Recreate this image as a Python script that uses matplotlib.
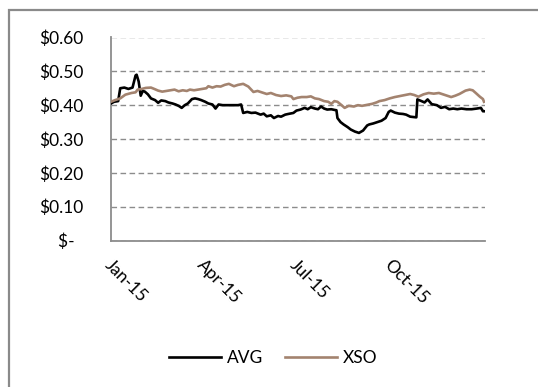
import matplotlib
matplotlib.use("Agg")
import matplotlib.pyplot as plt
import matplotlib.dates as mdates
import matplotlib.transforms as mtransforms
from matplotlib.ticker import FuncFormatter, MultipleLocator
from matplotlib.patches import Rectangle
import pandas as pd

BASE = pd.Timestamp("2015-01-01")

# day offsets from Jan 1 2015 and price ($)
avg_days = [0, 3, 7, 9, 13, 17, 21, 24, 25, 27, 29, 31, 33, 36, 39, 43, 46, 49,
            53, 56, 60, 63, 66, 69, 72, 75, 79, 82, 85, 88, 92, 95, 99, 102,
            105, 109, 113, 117, 121, 124, 127, 129, 133, 137, 141, 146, 149,
            152, 156, 159, 163, 166, 170, 173, 178, 181, 185, 189, 192, 195,
            199, 202, 205, 208, 211, 215, 218, 220, 221, 224, 227, 231, 234,
            238, 242, 246, 250, 252, 256, 260, 264, 268, 271, 273, 277, 281,
            285, 288, 292, 295, 298, 299, 303, 306, 309, 313, 318, 322, 326,
            330, 334, 338, 342, 347, 352, 357, 361, 363, 364]
avg_vals = [0.405, 0.410, 0.412, 0.450, 0.452, 0.448, 0.452, 0.488, 0.490,
            0.470, 0.428, 0.442, 0.440, 0.432, 0.420, 0.415, 0.407, 0.414,
            0.412, 0.408, 0.405, 0.402, 0.398, 0.392, 0.400, 0.405, 0.418,
            0.420, 0.418, 0.415, 0.410, 0.405, 0.402, 0.390, 0.402, 0.400,
            0.400, 0.400, 0.400, 0.400, 0.402, 0.377, 0.380, 0.377, 0.378,
            0.372, 0.375, 0.367, 0.370, 0.362, 0.368, 0.366, 0.372, 0.374,
            0.377, 0.384, 0.387, 0.392, 0.388, 0.394, 0.390, 0.388, 0.396,
            0.390, 0.387, 0.388, 0.386, 0.385, 0.362, 0.350, 0.343, 0.335,
            0.328, 0.322, 0.318, 0.325, 0.340, 0.343, 0.346, 0.350, 0.354,
            0.362, 0.380, 0.384, 0.378, 0.375, 0.374, 0.372, 0.366, 0.365,
            0.364, 0.417, 0.412, 0.408, 0.417, 0.403, 0.400, 0.392, 0.395,
            0.388, 0.390, 0.388, 0.390, 0.388, 0.388, 0.390, 0.392, 0.382,
            0.382]

xso_days = [0, 4, 9, 14, 20, 24, 26, 30, 34, 39, 43, 46, 50, 54, 58, 62, 66,
            70, 74, 77, 81, 85, 89, 93, 95, 99, 103, 107, 111, 115, 120, 124,
            129, 134, 139, 143, 147, 152, 156, 161, 166, 171, 176, 178, 182,
            186, 191, 195, 199, 203, 208, 212, 215, 218, 221, 225, 228, 232,
            237, 241, 245, 250, 255, 259, 262, 267, 272, 277, 282, 287, 292,
            296, 300, 305, 310, 315, 320, 324, 328, 332, 336, 340, 343, 346,
            350, 353, 356, 360, 363, 364]
xso_vals = [0.410, 0.415, 0.420, 0.431, 0.436, 0.438, 0.446, 0.448, 0.451,
            0.452, 0.447, 0.443, 0.440, 0.442, 0.444, 0.446, 0.441, 0.444,
            0.442, 0.446, 0.444, 0.446, 0.448, 0.450, 0.456, 0.452, 0.456,
            0.455, 0.460, 0.463, 0.456, 0.460, 0.463, 0.455, 0.439, 0.442,
            0.438, 0.433, 0.436, 0.430, 0.427, 0.429, 0.426, 0.418, 0.422,
            0.424, 0.424, 0.426, 0.420, 0.418, 0.412, 0.410, 0.404, 0.412,
            0.410, 0.400, 0.392, 0.398, 0.396, 0.400, 0.398, 0.401, 0.404,
            0.408, 0.412, 0.415, 0.420, 0.424, 0.427, 0.430, 0.433, 0.430,
            0.425, 0.432, 0.436, 0.434, 0.436, 0.432, 0.428, 0.424, 0.428,
            0.433, 0.438, 0.443, 0.446, 0.444, 0.436, 0.425, 0.418, 0.410]

avg_dates = BASE + pd.to_timedelta(avg_days, unit="D")
xso_dates = BASE + pd.to_timedelta(xso_days, unit="D")

AVG_C = "#000000"
XSO_C = "#A3836F"
GRID = "#8C8C8C"
AXIS = "#8C8C8C"
FS = 12.5

plt.rcParams["font.family"] = ["Lato", "DejaVu Sans"]

fig = plt.figure(figsize=(5.38, 3.87), dpi=100)
ax = fig.add_axes([111 / 538, 1 - 240.5 / 387, 374 / 538, 203 / 387])

# outer chart frame (only left/top visible in the picture)
fig.patches.append(Rectangle((9 / 538, -0.1), 1.2, 1 - 10 / 387 + 0.1,
                             transform=fig.transFigure, fill=False,
                             edgecolor="#8A8A8A", linewidth=1.6))

ax.plot(avg_dates, avg_vals, color=AVG_C, lw=1.9, label="AVG", zorder=3)
ax.plot(xso_dates, xso_vals, color=XSO_C, lw=1.9, label="XSO", zorder=3)

ax.set_ylim(0, 0.6)
ax.set_xlim(BASE, BASE + pd.Timedelta(days=365))
ax.yaxis.set_major_locator(MultipleLocator(0.1))
ax.yaxis.set_major_formatter(FuncFormatter(
    lambda v, p: "$-  " if abs(v) < 1e-9 else f"${v:.2f}"))
ax.grid(axis="y", color=GRID, linestyle=(0, (4, 2.5)), lw=1.0)
ax.set_axisbelow(True)

ax.set_xticks(mdates.date2num(pd.to_datetime(
    ["2015-01-01", "2015-04-01", "2015-07-01", "2015-10-01"])))
ax.xaxis.set_major_formatter(mdates.DateFormatter("%b-%y"))

for s in ("top", "right"):
    ax.spines[s].set_visible(False)
for s in ("left", "bottom"):
    ax.spines[s].set_color(AXIS)
    ax.spines[s].set_linewidth(1.3)

ax.tick_params(axis="y", length=0, pad=20, labelsize=FS)
ax.tick_params(axis="x", length=0, pad=16, labelsize=FS)
shift = mtransforms.ScaledTranslation(-4 / 100, 0, fig.dpi_scale_trans)
for lbl in ax.get_xticklabels():
    lbl.set_rotation(-45)
    lbl.set_rotation_mode("anchor")
    lbl.set_ha("left")
    lbl.set_va("center")
    lbl.set_transform(lbl.get_transform() + shift)

fig.legend(loc="center", bbox_to_anchor=(0.508, 1 - 358 / 387), ncol=2,
           frameon=False, fontsize=FS, handlelength=3.0, handletextpad=0.35,
           columnspacing=1.25)

fig.savefig("out.png", dpi=100, facecolor="white")
